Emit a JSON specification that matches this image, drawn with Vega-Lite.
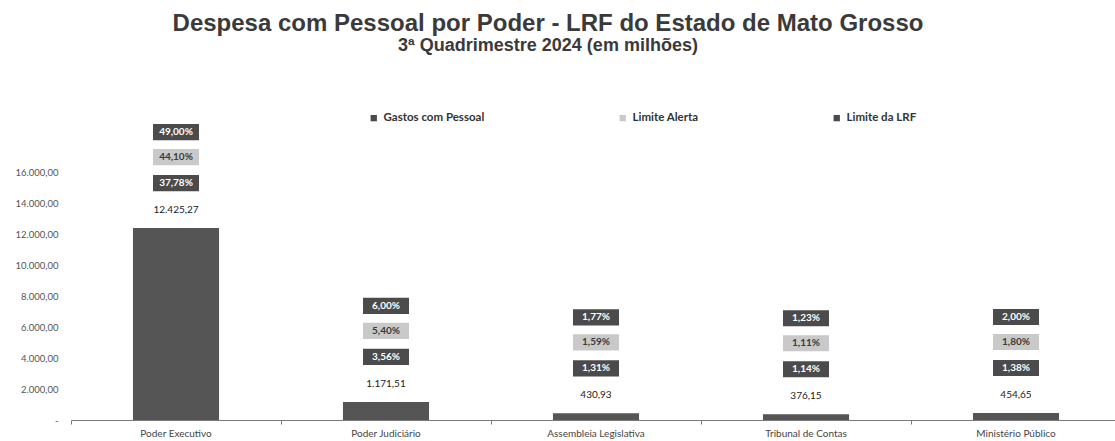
{
  "$schema": "https://vega.github.io/schema/vega-lite/v6.json",
  "autosize": "none",
  "padding": {"left": 71, "top": 142, "right": 0, "bottom": 21},
  "width": 1050,
  "height": 278,
  "background": "#ffffff",
  "title": {
    "text": "Despesa com Pessoal por Poder - LRF do Estado de Mato Grosso",
    "subtitle": "3ª Quadrimestre 2024 (em milhões)",
    "frame": "group",
    "anchor": "middle",
    "dx": -48,
    "offset": 57,
    "font": "Liberation Sans",
    "fontSize": 24,
    "fontWeight": "bold",
    "color": "#3a3a3a",
    "subtitleFont": "Liberation Sans",
    "subtitleFontSize": 18,
    "subtitleFontWeight": "bold",
    "subtitleColor": "#3a3a3a",
    "subtitlePadding": 1
  },
  "datasets": {
    "poderes": [
      {"poder": "Poder Executivo", "gasto": 12425.27},
      {"poder": "Poder Judiciário", "gasto": 1171.51},
      {"poder": "Assembleia Legislativa", "gasto": 430.93},
      {"poder": "Tribunal de Contas", "gasto": 376.15},
      {"poder": "Ministério Público", "gasto": 454.65}
    ],
    "percentuais": [
      {"poder": "Poder Executivo", "serie": "Gastos com Pessoal", "pct": 0.3778},
      {"poder": "Poder Executivo", "serie": "Limite Alerta", "pct": 0.441},
      {"poder": "Poder Executivo", "serie": "Limite da LRF", "pct": 0.49},
      {"poder": "Poder Judiciário", "serie": "Gastos com Pessoal", "pct": 0.0356},
      {"poder": "Poder Judiciário", "serie": "Limite Alerta", "pct": 0.054},
      {"poder": "Poder Judiciário", "serie": "Limite da LRF", "pct": 0.06},
      {"poder": "Assembleia Legislativa", "serie": "Gastos com Pessoal", "pct": 0.0131},
      {"poder": "Assembleia Legislativa", "serie": "Limite Alerta", "pct": 0.0159},
      {"poder": "Assembleia Legislativa", "serie": "Limite da LRF", "pct": 0.0177},
      {"poder": "Tribunal de Contas", "serie": "Gastos com Pessoal", "pct": 0.0114},
      {"poder": "Tribunal de Contas", "serie": "Limite Alerta", "pct": 0.0111},
      {"poder": "Tribunal de Contas", "serie": "Limite da LRF", "pct": 0.0123},
      {"poder": "Ministério Público", "serie": "Gastos com Pessoal", "pct": 0.0138},
      {"poder": "Ministério Público", "serie": "Limite Alerta", "pct": 0.018},
      {"poder": "Ministério Público", "serie": "Limite da LRF", "pct": 0.02}
    ]
  },
  "encoding": {
    "x": {
      "field": "poder",
      "type": "nominal",
      "sort": null,
      "scale": {"paddingInner": 0, "paddingOuter": 0},
      "axis": {
        "title": null,
        "labelAngle": 0,
        "labelFont": "Lato",
        "labelFontSize": 10,
        "labelColor": "#444444",
        "labelPadding": 4,
        "domainColor": "#7a7a7a",
        "domainWidth": 1,
        "bandPosition": 0,
        "ticks": true,
        "tickSize": 4,
        "tickColor": "#7a7a7a",
        "grid": false
      }
    },
    "y": {
      "field": "gasto",
      "type": "quantitative",
      "scale": {"domain": [0, 18000], "nice": false},
      "axis": {
        "title": null,
        "values": [0, 2000, 4000, 6000, 8000, 10000, 12000, 14000, 16000],
        "format": ",.2f",
        "labelExpr": "datum.value === 0 ? '-' : datum.label",
        "labelFont": "Lato",
        "labelFontSize": 9.5,
        "labelColor": "#555555",
        "labelPadding": 13,
        "domain": false,
        "ticks": false,
        "grid": false
      }
    }
  },
  "layer": [
    {
      "data": {"name": "poderes"},
      "mark": {"type": "bar", "width": {"band": 0.41}, "color": "#555555"}
    },
    {
      "data": {"name": "poderes"},
      "mark": {"type": "text", "dy": -18, "font": "Lato", "fontSize": 10, "color": "#222222"},
      "encoding": {"text": {"field": "gasto", "type": "quantitative", "format": ",.2f"}}
    },
    {
      "data": {"name": "percentuais"},
      "transform": [
        {"lookup": "poder", "from": {"data": {"name": "poderes"}, "key": "poder", "fields": ["gasto"]}},
        {"filter": "datum.serie === 'Gastos com Pessoal'"}
      ],
      "layer": [
        {
          "mark": {"type": "point", "filled": true, "opacity": 1, "shape": "M-1,-0.35L1,-0.35L1,0.35L-1,0.35Z", "size": 2116, "yOffset": -45},
          "encoding": {
            "color": {
              "field": "serie",
              "type": "nominal",
              "scale": {"domain": ["Gastos com Pessoal", "Limite Alerta", "Limite da LRF"], "range": ["#4b4b4b", "#c9c9c9", "#4b4b4b"]},
              "legend": {
                "title": null,
                "orient": "none",
                "legendX": 297,
                "legendY": -30,
                "direction": "horizontal",
                "symbolType": "square",
                "symbolSize": 40,
                "symbolStrokeWidth": 0,
                "labelFont": "Lato",
                "labelFontSize": 11.5,
                "labelFontWeight": "bold",
                "labelColor": "#333333",
                "columnPadding": 132,
                "padding": 0
              }
            }
          }
        },
        {
          "mark": {"type": "text", "dy": -45, "font": "Lato", "fontSize": 10, "fontWeight": "bold", "color": "#ffffff"},
          "encoding": {"text": {"field": "pct", "type": "quantitative", "format": ".2%"}}
        }
      ]
    },
    {
      "data": {"name": "percentuais"},
      "transform": [
        {"lookup": "poder", "from": {"data": {"name": "poderes"}, "key": "poder", "fields": ["gasto"]}},
        {"filter": "datum.serie === 'Limite Alerta'"}
      ],
      "layer": [
        {
          "mark": {"type": "point", "filled": true, "opacity": 1, "shape": "M-1,-0.35L1,-0.35L1,0.35L-1,0.35Z", "size": 2116, "yOffset": -71},
          "encoding": {"color": {"field": "serie", "type": "nominal"}}
        },
        {
          "mark": {"type": "text", "dy": -71, "font": "Lato", "fontSize": 10, "fontWeight": "bold", "color": "#3a3a3a"},
          "encoding": {"text": {"field": "pct", "type": "quantitative", "format": ".2%"}}
        }
      ]
    },
    {
      "data": {"name": "percentuais"},
      "transform": [
        {"lookup": "poder", "from": {"data": {"name": "poderes"}, "key": "poder", "fields": ["gasto"]}},
        {"filter": "datum.serie === 'Limite da LRF'"}
      ],
      "layer": [
        {
          "mark": {"type": "point", "filled": true, "opacity": 1, "shape": "M-1,-0.35L1,-0.35L1,0.35L-1,0.35Z", "size": 2116, "yOffset": -96},
          "encoding": {"color": {"field": "serie", "type": "nominal"}}
        },
        {
          "mark": {"type": "text", "dy": -96, "font": "Lato", "fontSize": 10, "fontWeight": "bold", "color": "#ffffff"},
          "encoding": {"text": {"field": "pct", "type": "quantitative", "format": ".2%"}}
        }
      ]
    }
  ],
  "config": {
    "locale": {"number": {"decimal": ",", "thousands": ".", "grouping": [3], "currency": ["R$ ", ""]}},
    "view": {"stroke": null}
  }
}
